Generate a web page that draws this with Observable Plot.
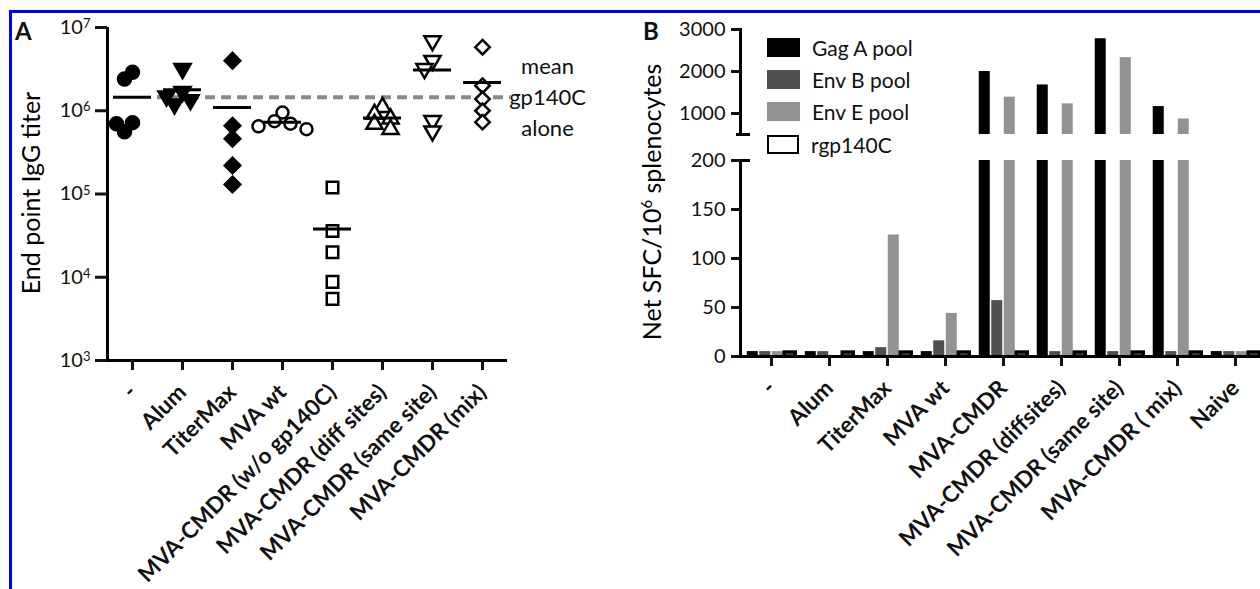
<!DOCTYPE html>
<html><head><meta charset="utf-8">
<script src="https://cdn.jsdelivr.net/npm/d3@7"></script>
<script src="https://cdn.jsdelivr.net/npm/@observablehq/plot@0.6"></script>
<style>
body{margin:0;background:#fff;}
#root{position:relative;width:1260px;height:589px;overflow:hidden;background:#fff;font-family:Lato,"Open Sans",sans-serif;color:#111;}
#root svg{position:absolute;max-width:none;overflow:visible;}
.abs{position:absolute;white-space:nowrap;}
</style></head><body><div id="root"></div>
<script>
// ---------- Panel A data ----------
const groupsA = ["-", "Alum", "TiterMax", "MVA wt", "MVA-CMDR (w/o gp140C)", "MVA-CMDR (diff sites)", "MVA-CMDR (same site)", "MVA-CMDR (mix)"];
const titerNone = [2.9e6, 2.4e6, 7.2e5, 7.0e5, 5.6e5];
const titerAlum = [3.2e6, 1.7e6, 1.5e6, 1.35e6, 1.2e6];
const titerTiterMax = [4.0e6, 6.6e5, 4.6e5, 2.2e5, 1.3e5];
const titerMVAwt = [9.5e5, 7.5e5, 7.0e5, 6.5e5, 6.0e5];
const titerNoGp = [1.2e5, 3.6e4, 2.0e4, 8.8e3, 5.5e3];
const titerDiff = [1.1e6, 9.1e5, 8.0e5, 6.9e5, 6.0e5];
const titerSame = [6.9e6, 4.0e6, 3.2e6, 7.6e5, 5.7e5];
const titerMix = [5.8e6, 2.0e6, 1.38e6, 1.0e6, 7.3e5];
const yTicksA = [1e3, 1e4, 1e5, 1e6, 1e7];
const noteA = "mean\ngp140C\nalone";

// ---------- Panel B data ----------
const groupsB = ["-", "Alum", "TiterMax", "MVA wt", "MVA-CMDR", "MVA-CMDR (diffsites)", "MVA-CMDR (same site)", "MVA-CMDR ( mix)", "Naive"];
const seriesB = ["Gag A pool", "Env B pool", "Env E pool", "rgp140C"];
const gagA = [5, 5, 5, 5, 2000, 1680, 2780, 1165, 5];
const envB = [5, 5, 9, 16, 57, 5, 5, 5, 5];
const envE = [5, 1, 124, 44, 1390, 1230, 2330, 870, 5];
const rgp140C = [4, 4, 4, 4, 4, 4, 4, 4, 4];
const yTicksLower = [0, 50, 100, 150, 200];
const yTicksUpper = [1000, 2000, 3000];

// ---------- Panel A ----------
const titers = [titerNone, titerAlum, titerTiterMax, titerMVAwt, titerNoGp, titerDiff, titerSame, titerMix];
const pxPerDecade = 83.25;
const ptsA = [];
titers.forEach((vals, g) => {
  const placed = [];
  [...vals].sort((a, b) => b - a).forEach(v => {
    const py = Math.log10(v) * pxPerDecade;
    for (const k of [0, -1, 1, -2, 2, -3, 3]) {
      const px = k * 8;
      if (placed.every(p => Math.hypot(p.px - px, p.py - py) >= 10)) {
        placed.push({px, py});
        ptsA.push({g, v, off: px / 50});
        break;
      }
    }
  });
});
const sqrt3 = Math.sqrt(3);
const triDown = {draw(ctx, size) {
  const y = -Math.sqrt(size / (sqrt3 * 3));
  ctx.moveTo(0, -y * 2); ctx.lineTo(-sqrt3 * y, y); ctx.lineTo(sqrt3 * y, y); ctx.closePath();
}};
const symA = [
  {symbol: "circle", r: 6.5, fill: "#000", stroke: "#000"},
  {symbol: triDown, r: 6, fill: "#000", stroke: "#000"},
  {symbol: "diamond2", r: 7, fill: "#000", stroke: "#000"},
  {symbol: "circle", r: 6, fill: "#fff", stroke: "#000"},
  {symbol: "square", r: 6.5, fill: "#fff", stroke: "#000"},
  {symbol: "triangle", r: 6, fill: "#fff", stroke: "#000"},
  {symbol: triDown, r: 6, fill: "#fff", stroke: "#000"},
  {symbol: "diamond2", r: 6.5, fill: "#fff", stroke: "#000"}
];
const meansA = titers.map((v, i) => ({i, m: d3.mean(v)}));
const gp140Mean = d3.mean(titerNone);

const plotA = Plot.plot({
  width: 630, height: 589,
  marginLeft: 107, marginRight: 123, marginTop: 27, marginBottom: 229,
  x: {type: "linear", domain: [-0.5, 7.5]},
  y: {type: "log", domain: [1e3, 1e7]},
  style: {background: "transparent", fontFamily: "Lato, sans-serif", color: "#111", overflow: "visible"},
  marks: [
    Plot.ruleY([gp140Mean], {x1: 0.5, x2: 7.56, stroke: "#888", strokeWidth: 4, strokeDasharray: "10,6"}),
    ...symA.map((s, g) => Plot.dot(ptsA.filter(p => p.g === g), {
      x: d => d.g + d.off, y: "v", symbol: s.symbol, r: s.r, fill: s.fill, stroke: s.stroke, strokeWidth: 2.5
    })),
    Plot.ruleY(meansA, {y: "m", x1: d => d.i - 0.38, x2: d => d.i + 0.38, stroke: "#000", strokeWidth: 3}),
    Plot.ruleX([-0.5], {y1: 1e3, y2: 1e7, strokeWidth: 3, stroke: "#000"}),
    Plot.ruleY([1e3], {x1: -0.5, x2: 7.5, strokeWidth: 3, stroke: "#000"}),
    Plot.axisY({ticks: yTicksA, tickSize: 12, tickPadding: 5, strokeWidth: 3, fontSize: 20, label: null,
      tickFormat: d => "10^" + Math.round(Math.log10(d))}),
    Plot.axisX({ticks: d3.range(groupsA.length), tickFormat: i => groupsA[i], tickSize: 10, tickPadding: 18,
      strokeWidth: 3, tickRotate: -45, fontSize: 22.5, fontWeight: "bold", label: null}),
    Plot.text([gp140Mean], {x: 8.3, y: d => d, text: () => noteA, fontSize: 22, lineHeight: 1.4, dy: -2,
      textAnchor: "middle", lineAnchor: "middle", fill: "#111"})
  ]
});
plotA.style.left = "0px"; plotA.style.top = "0px";
plotA.querySelectorAll("text").forEach(t => {
  const m = /^10\^(\d)$/.exec(t.textContent);
  if (m) t.innerHTML = `10<tspan dy="-0.45em" font-size="13">${m[1]}</tspan>`;
});

// ---------- Panel B ----------
const valuesB = [gagA, envB, envE, rgp140C];
const colorsB = ["#000", "#4f4f4f", "#929292", "#fff"];
const strokesB = [null, null, null, "#000"];
const offsetsB = [-18.75, -6.25, 6.25, 18.75];
const barsB = valuesB.map((vals, s) => vals.map((value, gi) => ({group: groupsB[gi], series: seriesB[s], value})));
const bandPad = 1 - 12 / 58.5;
const xB = {domain: groupsB, paddingInner: bandPad, paddingOuter: bandPad / 2};
const wB = 640, mLB = 110, mRB = 3.5;
const frameWB = wB - mLB - mRB;
const styleB = {background: "transparent", fontFamily: "Lato, sans-serif", color: "#111", overflow: "visible"};

const lowerB = Plot.plot({
  width: wB, height: 589,
  marginLeft: mLB, marginRight: mRB, marginTop: 160, marginBottom: 233,
  x: xB,
  y: {domain: [0, 200]},
  style: styleB,
  marks: [
    ...barsB.map((data, s) => Plot.barY(data, {x: "group", y: "value", fill: colorsB[s], stroke: strokesB[s], strokeWidth: 3.5, dx: offsetsB[s], clip: true, insetLeft: 0.5, insetRight: 0.5})),
    Plot.frame({anchor: "left", strokeWidth: 3, stroke: "#000"}),
    Plot.ruleY([0], {strokeWidth: 3, stroke: "#000", insetLeft: -1.5}),
    Plot.ruleY([200], {strokeWidth: 3, stroke: "#000", insetLeft: -2, insetRight: frameWB - 10}),
    Plot.axisY({ticks: yTicksLower, tickSize: 9, tickPadding: 6, strokeWidth: 3, fontSize: 20, label: null, tickFormat: d => String(d)}),
    Plot.axisX({tickSize: 10, tickPadding: 18, strokeWidth: 3, tickRotate: -45, fontSize: 22.5, fontWeight: "bold", label: null})
  ]
});
lowerB.style.left = "630px"; lowerB.style.top = "0px";

const upperB = Plot.plot({
  width: wB, height: 150,
  marginLeft: mLB, marginRight: mRB, marginTop: 29, marginBottom: 16,
  x: xB,
  y: {domain: [500, 3000]},
  style: styleB,
  marks: [
    ...barsB.map((data, s) => Plot.barY(data.filter(d => d.value > 500), {x: "group", y1: 500, y2: "value", fill: colorsB[s], dx: offsetsB[s], insetLeft: 0.5, insetRight: 0.5})),
    Plot.frame({anchor: "left", strokeWidth: 3, stroke: "#000"}),
    Plot.ruleY([500], {strokeWidth: 3, stroke: "#000", insetLeft: -4, insetRight: frameWB - 10}),
    Plot.axisY({ticks: yTicksUpper, tickSize: 9, tickPadding: 6, strokeWidth: 3, fontSize: 20, label: null, tickFormat: d => String(d)}),
    Plot.axisX({ticks: [], label: null})
  ]
});
upperB.style.left = "630px"; upperB.style.top = "0px";

const root = document.getElementById("root");
// blue frame
const frame = document.createElement("div");
frame.className = "abs";
Object.assign(frame.style, {left: "9px", top: "10px", width: "1300px", height: "700px", borderTop: "3px solid #0000ff", borderLeft: "3px solid #0000ff"});
root.appendChild(frame);
root.appendChild(plotA);
root.appendChild(lowerB);
root.appendChild(upperB);

function addText(html, css) {
  const d = document.createElement("div");
  d.className = "abs";
  d.innerHTML = html;
  Object.assign(d.style, css);
  root.appendChild(d);
  return d;
}
addText("A", {left: "15px", top: "16px", fontSize: "24px", fontWeight: "bold"});
addText("B", {left: "643px", top: "16px", fontSize: "24px", fontWeight: "bold"});
addText("End point IgG titer", {left: "30px", top: "193px", fontSize: "25px", color: "#000", transform: "translate(-50%,-50%) rotate(-90deg)"});
addText("Net SFC/10<sup style='font-size:15px'>6</sup> splenocytes", {left: "651px", top: "202px", fontSize: "25px", color: "#000", transform: "translate(-50%,-50%) rotate(-90deg)"});

// legend for panel B
const legend = document.createElement("div");
legend.className = "abs";
Object.assign(legend.style, {left: "767px", top: "31px"});
seriesB.forEach((name, s) => {
  const row = document.createElement("div");
  Object.assign(row.style, {display: "flex", alignItems: "center", height: "32.3px"});
  const sw = document.createElement("span");
  Object.assign(sw.style, {display: "inline-block", width: s === 3 ? "28px" : "33px", height: s === 3 ? "15px" : "19px",
    background: colorsB[s], border: s === 3 ? "2.5px solid #000" : "none", marginRight: "12px"});
  const tx = document.createElement("span");
  tx.textContent = name;
  Object.assign(tx.style, {fontSize: "21px"});
  row.appendChild(sw); row.appendChild(tx);
  legend.appendChild(row);
});
root.appendChild(legend);
</script></body></html>
